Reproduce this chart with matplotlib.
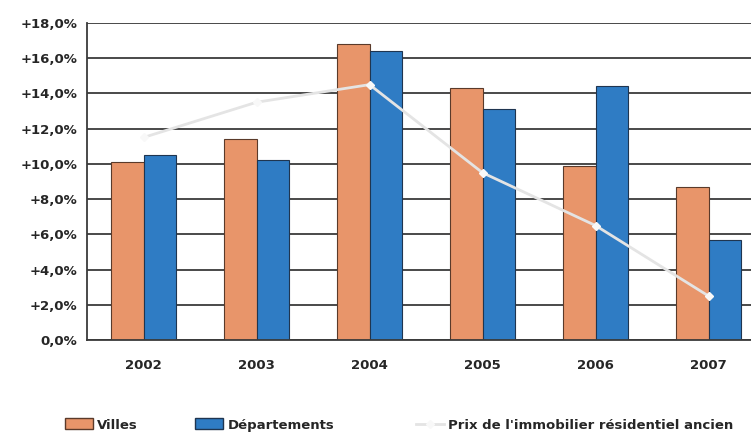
import numpy as np
import matplotlib.pyplot as plt
from matplotlib.patches import Patch
from matplotlib.lines import Line2D

years = ['2002', '2003', '2004', '2005', '2006', '2007']
villes = [10.1, 11.4, 16.8, 14.3, 9.9, 8.7]
departements = [10.5, 10.2, 16.4, 13.1, 14.4, 5.7]
prix = [11.5, 13.5, 14.5, 9.5, 6.5, 2.5]

c_villes = '#e8956a'
c_dep = '#2f7cc4'
c_line = '#e4e4e4'

plt.rcParams['font.family'] = ['DejaVu Sans']
plt.rcParams['font.weight'] = 'bold'

fig = plt.figure(figsize=(7.51, 4.41), dpi=100)
ax = fig.add_axes([87 / 751, 101 / 441, 678 / 751, 317 / 441])

x = np.arange(len(years))
w = 0.29
ax.bar(x - w / 2, villes, w, color=c_villes, edgecolor='#5a3a2a', linewidth=0.8, zorder=2)
ax.bar(x + w / 2, departements, w, color=c_dep, edgecolor='#1f3550', linewidth=0.8, zorder=2)
ax.plot(x, prix, color=c_line, linewidth=2.0, marker='D', markersize=4,
        markerfacecolor='#f8f8f8', markeredgecolor='#f8f8f8', zorder=3)

ax.set_xlim(-0.5, 5.5)
ax.set_ylim(0, 18)
ax.set_yticks(np.arange(0, 19, 2))
ax.set_yticklabels(['0,0%'] + ['+%d,0%%' % v for v in range(2, 19, 2)])
ax.set_xticks(x)
ax.set_xticklabels(years)
ax.yaxis.grid(True, color='#3a3a3a', linewidth=1.3, zorder=0)
ax.set_axisbelow(True)
ax.tick_params(axis='both', length=0, labelsize=9.5, colors='#262626')
ax.tick_params(axis='x', pad=14)
ax.tick_params(axis='y', pad=7)
for s in ['top', 'right']:
    ax.spines[s].set_visible(False)
ax.spines['left'].set_color('#3a3a3a')
ax.spines['left'].set_linewidth(1.3)
ax.spines['bottom'].set_color('#3a3a3a')
ax.spines['bottom'].set_linewidth(1.3)

leg_kw = dict(frameon=False, fontsize=9.5, handlelength=2.1, handleheight=0.9,
              handletextpad=0.35, borderpad=0, borderaxespad=0, loc='center left',
              labelcolor='#262626')
fig.legend(handles=[Patch(facecolor=c_villes, edgecolor='#5a3a2a', label='Villes')],
           bbox_to_anchor=(65 / 751, 1 - 425 / 441), **leg_kw)
fig.legend(handles=[Patch(facecolor=c_dep, edgecolor='#1f3550', label='Départements')],
           bbox_to_anchor=(195 / 751, 1 - 425 / 441), **leg_kw)
fig.legend(handles=[Line2D([], [], color=c_line, linewidth=2, marker='D', markersize=4,
                           markerfacecolor='#f8f8f8', markeredgecolor='#f8f8f8',
                           label="Prix de l'immobilier résidentiel ancien")],
           bbox_to_anchor=(416 / 751, 1 - 425 / 441), **leg_kw)

fig.savefig('out.png', dpi=100)
